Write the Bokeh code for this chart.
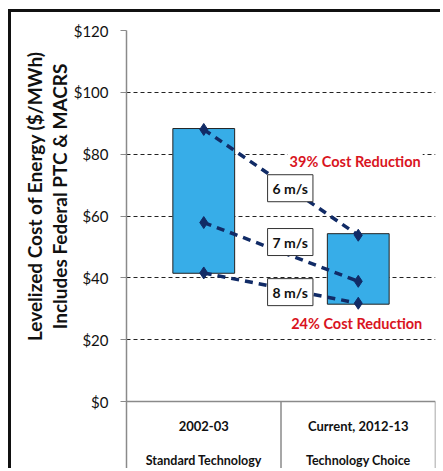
from bokeh.plotting import figure
from bokeh.models import Range1d, FixedTicker, NumeralTickFormatter, Label, Span, Title
from bokeh.core.properties import value
from bokeh.embed import file_html
from bokeh.resources import INLINE

# ---- data ----
categories = ["2002-03", "Current, 2012-13"]
category_sublabels = ["Standard Technology", "Technology Choice"]
box_low = [41.5, 31.5]
box_high = [88.3, 54.3]
speeds = ["6 m/s", "7 m/s", "8 m/s"]
lcoe_2002 = [88.0, 57.9, 41.6]
lcoe_2012 = [53.8, 38.9, 31.8]
reduction_labels = ["39% Cost Reduction", "24% Cost Reduction"]
y_ticks = [0, 20, 40, 60, 80, 100, 120]
y_title_lines = ["Levelized Cost  of Energy ($/MWh)", "Includes Federal PTC & MACRS"]

FONT = "Lato"
NAVY = "#112b66"
BLUE = "#37ade8"
RED = "#d9141e"

cat_x = [i + 0.5 for i in range(len(categories))]
Y_MIN = -22.6

p = figure(width=432, height=459, output_backend="svg", toolbar_location=None,
           x_range=Range1d(0, len(categories)), y_range=Range1d(Y_MIN, 120),
           min_border_left=115, min_border_right=8, min_border_top=18,
           min_border_bottom=0)
p.styles = {"margin-left": "8px", "margin-top": "9px",
            "border-left": "3px solid #111", "border-top": "3px solid #111"}
p.outline_line_color = None
p.background_fill_color = "white"
p.xaxis.visible = False
p.xgrid.visible = False

# y axis
ax = p.yaxis[0]
ax.ticker = FixedTicker(ticks=y_ticks)
ax.formatter = NumeralTickFormatter(format="$0")
ax.axis_line_color = "#8a8a8a"
ax.axis_line_width = 1.5
ax.major_tick_line_color = "#8a8a8a"
ax.major_tick_in = 0
ax.major_tick_out = 6
ax.minor_tick_line_color = None
ax.major_label_standoff = 12
ax.major_label_text_font = FONT
ax.major_label_text_font_size = "15px"
ax.major_label_text_color = "#111"

# y axis title as two left-side titles (first added sits nearest the axis)
for t, off in zip([y_title_lines[1], y_title_lines[0]], [33, 16]):
    p.add_layout(Title(text=t, align="right", offset=off, text_font=FONT,
                       text_font_style="bold", text_font_size="19px",
                       text_color="#111", standoff=0), "left")

g = p.ygrid[0]
g.ticker = FixedTicker(ticks=[t for t in y_ticks if t > 0])
g.grid_line_color = "#222"
g.grid_line_dash = "4 3"
g.grid_line_width = 1

p.add_layout(Span(location=0, dimension="width", line_color="#8a8a8a", line_width=1.5))

# category table
p.segment(x0=[1, 2], x1=[1, 2], y0=[0, 0], y1=[Y_MIN, Y_MIN],
          line_color="#8a8a8a", line_width=1.5)
p.text(x=cat_x, y=[-7.8] * 2, text=categories, text_font=value(FONT),
       text_font_style="bold", text_font_size="13px", text_align="center",
       text_baseline="middle", text_color="#111")
p.text(x=cat_x, y=[-19.1] * 2, text=category_sublabels, text_font=value(FONT),
       text_font_style="bold", text_font_size="12.5px", text_align="center",
       text_baseline="middle", text_color="#111")

# boxes
p.vbar(x=cat_x, width=0.4, bottom=box_low, top=box_high, fill_color=BLUE,
       line_color="#222", line_width=1)

# speed lines
for s, a, b in zip(speeds, lcoe_2002, lcoe_2012):
    p.line(x=cat_x, y=[a, b], line_color=NAVY, line_width=3.5, line_dash="8 6")
    p.scatter(x=cat_x, y=[a, b], marker="diamond", size=12, fill_color=NAVY,
              line_color=NAVY)

# speed labels
label_y = [69.0, 51.6, 35.4]
for s, ly in zip(speeds, label_y):
    p.add_layout(Label(x=1.06, y=ly, text=s, text_font=FONT, text_font_style="bold",
                       text_font_size="14px", text_align="center",
                       text_baseline="middle", text_color="#111",
                       background_fill_color="white", border_line_color="#333",
                       border_line_width=1, padding=5))

# reduction labels
for t, lx, ly in zip(reduction_labels, [1.48, 1.49], [77.6, 25.2]):
    p.add_layout(Label(x=lx, y=ly, text=t, text_font=FONT, text_font_style="bold",
                       text_font_size="14.5px", text_align="center",
                       text_baseline="middle", text_color=RED,
                       background_fill_color="white", padding=2))

open("out.html", "w").write(file_html(p, INLINE))
